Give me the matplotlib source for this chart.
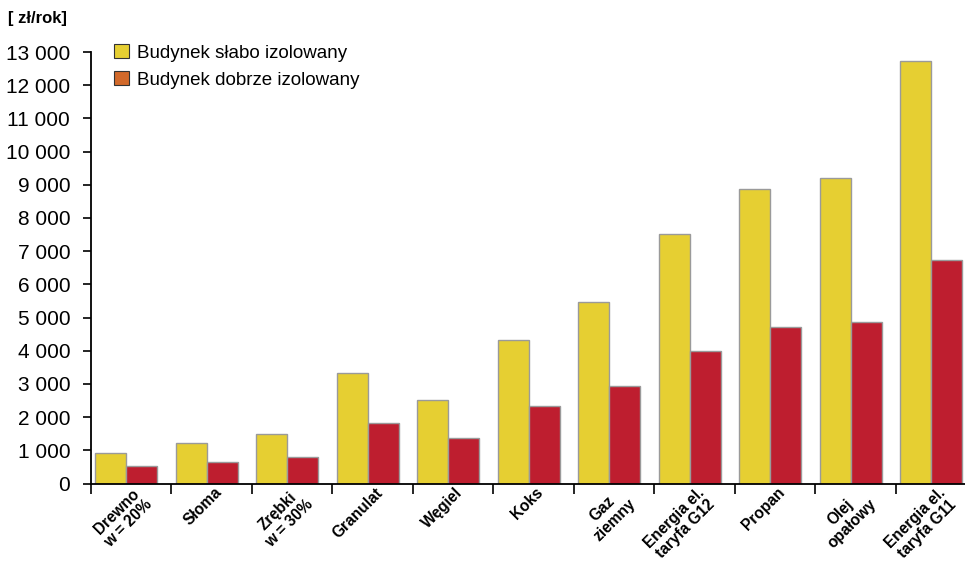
import numpy as np
import matplotlib
matplotlib.use("Agg")
from matplotlib import pyplot as plt
from matplotlib.patches import Patch
from matplotlib import transforms

# koszty ogrzewania wg paliwa
categories = ["Drewno\nw = 20%", "Słoma", "Zrębki\nw = 30%", "Granulat", "Węgiel",
              "Koks", "Gaz\nziemny", "Energia el.\ntaryfa G12", "Propan",
              "Olej\nopałowy", "Energia el.\ntaryfa G11"]
slabo = [930, 1220, 1490, 3330, 2530, 4320, 5480, 7520, 8870, 9200, 12720]
dobrze = [520, 640, 800, 1810, 1370, 2320, 2930, 4000, 4730, 4880, 6720]
y_ticks = list(range(0, 14000, 1000))
series_names = ["Budynek słabo izolowany", "Budynek dobrze izolowany"]

plt.rcParams["font.family"] = ["Liberation Sans", "DejaVu Sans"]

YELLOW = "#E6CF32"
RED = "#BE1E2F"
ORANGE = "#D2692A"

fig = plt.figure(figsize=(9.65, 5.64), dpi=100)
ax = fig.add_axes([91 / 965, 80.5 / 564, 874 / 965, 431.5 / 564])

x = np.arange(len(categories))
w = 0.385
ax.bar(x + 0.055, slabo, width=w, align="edge", color=YELLOW,
       edgecolor="#9a9a9a", linewidth=1.0, zorder=2)
ax.bar(x + 0.055 + w, dobrze, width=w, align="edge", color=RED,
       edgecolor="#9a9a9a", linewidth=1.0, zorder=2)

ax.set_xlim(0, 874 / 80.47)
ax.set_ylim(0, 13000)

for s in ["top", "right"]:
    ax.spines[s].set_visible(False)
for s in ["left", "bottom"]:
    ax.spines[s].set_linewidth(1.3)
    ax.spines[s].set_color("black")

ax.set_yticks(y_ticks)
ax.set_yticklabels([f"{v:,}".replace(",", " ") for v in y_ticks], fontsize=15)
ax.tick_params(axis="y", direction="out", length=6, width=1.2, pad=9)

# granice grup jako podziałka, podpisy pod środkami grup
ax.set_xticks(np.arange(len(categories)))
ax.set_xticklabels([])
ax.tick_params(axis="x", which="major", direction="out", length=7, width=1.2)
ax.set_xticks(x + 0.5, minor=True)
ax.set_xticklabels(categories, minor=True, rotation=45, ha="right",
                   va="top", rotation_mode="anchor", fontsize=11.2,
                   fontweight="bold", ma="center", linespacing=1.1)
ax.tick_params(axis="x", which="minor", length=0, pad=1)
shift = transforms.ScaledTranslation(2 / 100, 0, fig.dpi_scale_trans)
for lbl in ax.get_xticklabels(minor=True):
    lbl.set_transform(lbl.get_transform() + shift)

fig.text(8 / 965, 1 - 19 / 564, "[ zł/rok]", fontsize=12, fontweight="bold",
         va="center", ha="left")

handles = [Patch(facecolor=YELLOW, edgecolor="#333333", linewidth=0.8),
           Patch(facecolor=ORANGE, edgecolor="#333333", linewidth=0.8)]
ax.legend(handles, series_names, loc="upper left",
          bbox_to_anchor=(114 / 965, 1 - 44 / 564), bbox_transform=fig.transFigure,
          frameon=False, fontsize=13.5, handlelength=0.8, handleheight=0.8,
          handletextpad=0.45, labelspacing=0.5, borderpad=0, borderaxespad=0)

fig.savefig("out.png", dpi=100)
